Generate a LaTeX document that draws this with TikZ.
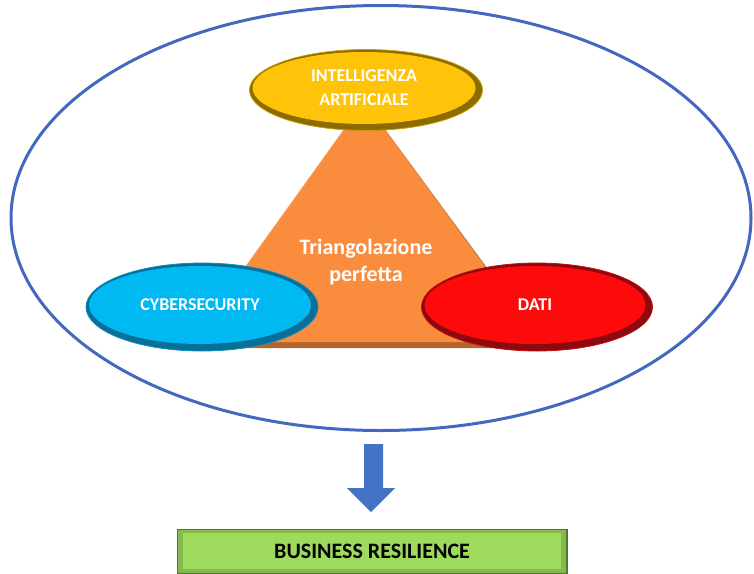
\documentclass[tikz,border=0pt]{standalone}
\usepackage{fontspec}
\setmainfont{Carlito}
\usetikzlibrary{shapes.geometric}
\definecolor{ringblue}{HTML}{4468C0}
\definecolor{tri}{HTML}{F98C3D}
\definecolor{trishadow}{HTML}{B5662E}
\definecolor{yel}{HTML}{FFC409}
\definecolor{yeldark}{HTML}{8C6C00}
\definecolor{cya}{HTML}{00B8F2}
\definecolor{cyadark}{HTML}{0A6E96}
\definecolor{redf}{HTML}{FF0A0A}
\definecolor{reddark}{HTML}{8A0A10}
\definecolor{arr}{HTML}{4472C4}
\definecolor{grn}{HTML}{9EDB5C}
\definecolor{grndark}{HTML}{4E7A2A}
\tikzset{
  rim/.style={ellipse, draw=#1!80!black, line width=0.8pt, inner sep=0pt},
  face/.style={ellipse, inner sep=0pt, text=white, align=center,
    font=\bfseries\fontsize{18}{24}\selectfont},
}
\begin{document}
\begin{tikzpicture}[x=1pt,y=-1pt]
\useasboundingbox (0,0) rectangle (754,573);
% big ring
\node[ellipse, draw=ringblue, line width=3pt, minimum width=740, minimum height=425, inner sep=0pt] (ring) at (381,218) {};
% triangle shadow and body
\fill[trishadow] (368,106) -- (546,348) -- (197,348) -- cycle;
\fill[gray!30] (364,101) -- (544,344) -- (546,348) -- (368,106) -- cycle;
\fill[tri] (364,101) -- (540,342) -- (191,342) -- cycle;
\draw[white!70!tri, line width=0.6pt] (364,101) -- (191,342);
\node[text=white, font=\bfseries\fontsize{22}{27}\selectfont, align=center] (tl) at (366,262) {Triangolazione\\perfetta};
% top yellow
\node[rim=yel, fill=yeldark, minimum width=233, minimum height=81] (ia0) at (366,90) {};
\node[face, fill=yel, minimum width=223, minimum height=72] (ia) at (364,88) {INTELLIGENZA\\ARTIFICIALE};
% cyan
\node[rim=cya, fill=cyadark, minimum width=232, minimum height=88] (cs0) at (202,307) {};
\node[face, fill=cya, minimum width=222, minimum height=78] (cs) at (200,305) {CYBERSECURITY};
% red
\node[rim=redf, fill=reddark, minimum width=231, minimum height=88] (da0) at (537,307) {};
\node[face, fill=redf, minimum width=221, minimum height=78] (da) at (535,305) {DATI};
% block arrow
\fill[arr] (364,444) -- (383,444) -- (383,488) -- (395,488) -- (371,512) -- (347,488) -- (364,488) -- cycle;
% green box
\node[draw=grndark, line width=1pt, fill=grndark, minimum width=390, minimum height=46, inner sep=0pt, anchor=north west] (br0) at (177,529) {};
\fill[grn!85!black] (178,530) rectangle (566,573);
\node[fill=grn, minimum width=378, minimum height=36, inner sep=0pt, font=\bfseries\fontsize{22}{26}\selectfont] (br) at (372,551) {BUSINESS RESILIENCE};
\end{tikzpicture}
\end{document}
